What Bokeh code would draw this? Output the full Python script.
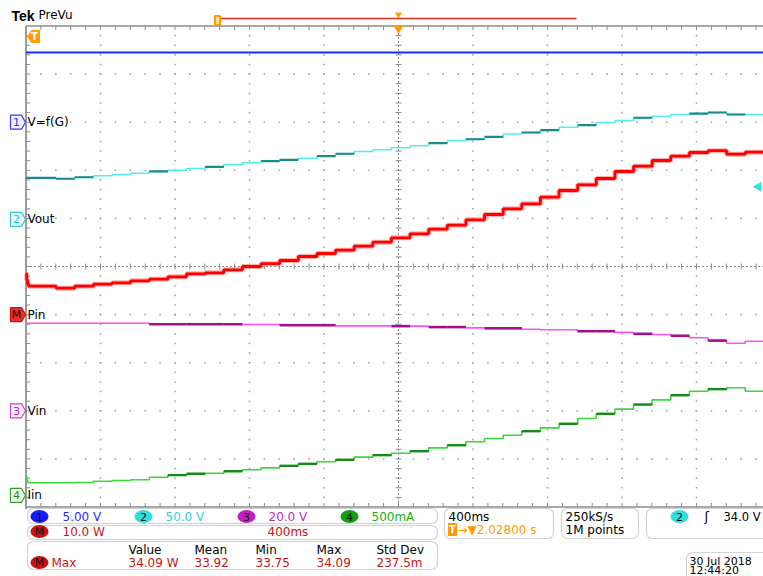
from math import pi

from bokeh.embed import file_html
from bokeh.models import BoxAnnotation, Label
from bokeh.plotting import figure
from bokeh.resources import INLINE

# ---------------- acquisition settings ----------------
SEC_PER_DIV = 0.4
T_CENTER = 2.028                       # trigger -> screen centre, s
T_LEFT = T_CENTER - 5 * SEC_PER_DIV    # time at the left graticule edge
T_END = 3.99                           # last sample in the window

CH1_SCALE, CH1_POS = 5.00, 3.00    # V/div, position in div
CH2_SCALE, CH2_POS = 50.0, 0.98    # V/div
M_SCALE, M_POS = 10.0, -1.00       # W/div (math: Pin)
CH3_SCALE, CH3_POS = 20.0, -3.00   # V/div
CH4_SCALE, CH4_POS = 0.500, -4.76  # A/div
TRIG_LEVEL = 34.0                  # V on ch2

# ---------------- waveforms ----------------
# instants at which the sweep steps (s after trigger)
t_steps = [0.028, 0.19, 0.29, 0.39, 0.49, 0.59, 0.69, 0.79, 0.89, 0.99,
           1.09, 1.19, 1.29, 1.39, 1.49, 1.59, 1.69, 1.79, 1.89, 1.99,
           2.09, 2.19, 2.29, 2.39, 2.49, 2.59, 2.69, 2.79, 2.89, 2.99,
           3.09, 3.19, 3.29, 3.39, 3.49, 3.59, 3.69, 3.79, 3.89]

# ch1: V=f(G)
ch1_t = [0.028, 3.99]
ch1_v = [7.25, 7.25]

# ch2: Vout (V)
ch2_v = [43.2, 42.2, 43.8, 45.3, 46.6, 48.0, 49.8, 51.1, 52.9, 54.6,
         56.7, 58.8, 60.5, 61.9, 63.6, 65.7, 68.2, 70.5, 72.3, 74.4,
         76.5, 79.2, 81.7, 83.3, 85.8, 88.7, 90.3, 92.7, 95.8, 97.9,
         100.7, 102.8, 105.6, 107.2, 109.0, 110.0, 111.1, 109.0, 109.0]

# math M: Pin (W)
m_t = [0.028, 0.032, 0.036, 0.042] + t_steps[1:]
m_v = [8.50, 7.20, 6.40, 5.90, 5.49, 5.90, 6.32, 6.61, 7.03, 7.36, 7.86,
       8.48, 8.69, 9.31, 10.00, 10.58, 11.25, 12.08, 12.70, 13.39, 14.22,
       15.05, 15.97, 16.80, 17.75, 18.59, 19.71, 20.81, 22.00, 23.04, 24.41,
       25.80, 26.99, 28.30, 29.75, 30.85, 32.04, 32.93, 33.70, 34.09, 33.35,
       33.76]

# ch3: Vin (V)
ch3_v = [36.4, 36.4, 36.4, 36.4, 36.4, 36.4, 36.0, 36.0, 36.0, 36.0,
         36.0, 35.9, 35.9, 35.6, 35.6, 35.6, 35.3, 35.3, 35.3, 35.2,
         35.2, 34.8, 34.8, 34.5, 34.3, 34.3, 33.9, 33.7, 33.7, 33.1,
         33.1, 32.6, 32.0, 31.7, 31.2, 30.4, 29.2, 28.1, 28.9]

# ch4: Iin (A)
ch4_t = [0.028, 0.032, 0.037] + t_steps[1:]
ch4_v = [0.205, 0.160, 0.132, 0.132, 0.135, 0.148, 0.155, 0.163, 0.190,
         0.211, 0.225, 0.231, 0.252, 0.267, 0.287, 0.308, 0.329, 0.350,
         0.371, 0.398, 0.419, 0.439, 0.460, 0.495, 0.522, 0.558, 0.592,
         0.626, 0.668, 0.703, 0.745, 0.800, 0.849, 0.897, 0.945, 0.994,
         1.042, 1.084, 1.105, 1.119, 1.084]

# measurement readout
meas_headers = ["Value", "Mean", "Min", "Max", "Std Dev"]
meas_values = ["34.09 W", "33.92", "33.75", "34.09", "237.5m"]

# persistence shading: steps drawn in the darker tone
CH2_DARK = [0, 1, 2, 6, 9, 12, 13, 15, 16, 21, 23, 24, 26, 27, 29, 32, 35, 36, 37]
CH3_DARK = [6, 7, 8, 9, 10, 13, 14, 15, 19, 21, 22, 24, 25, 29, 30, 32, 34, 36]
CH4_DARK = [i + 2 for i in [7, 8, 10, 13, 14, 16, 18, 20, 22, 26, 28, 30, 32, 34, 36]]

# ---------------- screen geometry ----------------
W, H = 763, 576
PX_T = SEC_PER_DIV / 74.5   # seconds per pixel
PX_D = 1 / 48.1             # divisions per pixel
X0 = T_LEFT - 25.5 * PX_T


def sx(px):
    return X0 + px * PX_T


def sy(py):
    return (266 - py) * PX_D


FONT = "DejaVu Sans"
GRAT = "#8c8c8c"
DOT = "#a6a6a6"
ORANGE = "#ff9c00"

p = figure(width=W, height=H, x_range=(sx(0), sx(W)), y_range=(sy(H), sy(0)),
           x_axis_type=None, y_axis_type=None, toolbar_location=None,
           output_backend="svg", min_border=0, outline_line_color=None,
           background_fill_color="white", border_fill_color="white")

T_RIGHT = sx(W)
minor_t = [T_LEFT + k * SEC_PER_DIV / 5 for k in range(1, 50)]
minor_d = [-5 + j * 0.2 for j in range(1, 50)]

# ---------------- graticule ----------------
dot_x, dot_y = [], []
for i in (1, 2, 3, 4, 6, 7, 8, 9):
    dot_x += [T_LEFT + i * SEC_PER_DIV] * len(minor_d)
    dot_y += minor_d
for j in (-4, -3, -2, -1, 1, 2, 3, 4):
    dot_x += minor_t
    dot_y += [j] * len(minor_t)
p.scatter(dot_x, dot_y, marker="square", size=1.6, fill_color=DOT, line_color=None)

p.line([T_CENTER, T_CENTER], [-5, 5], line_color=GRAT, line_dash="2 2", line_width=1)
p.line([T_LEFT, T_RIGHT], [0, 0], line_color=GRAT, line_dash="2 2", line_width=1)
p.scatter([T_CENTER] * len(minor_d), minor_d, marker="dash", size=6, line_color=GRAT)
p.scatter(minor_t, [0] * len(minor_t), marker="dash", angle=pi / 2, size=6, line_color=GRAT)

p.line([T_LEFT, T_LEFT], [-5.04, 5], line_color="#7a7a7a", line_width=1.5)
p.line([T_LEFT, T_RIGHT], [5, 5], line_color=GRAT, line_width=1.5)
p.line([T_LEFT, T_RIGHT], [-5, -5], line_color=GRAT, line_width=1.5)
TICK = 4
n = len(minor_t)
p.segment(x0=minor_t, y0=[5] * n, x1=minor_t, y1=[5 - TICK * PX_D] * n, line_color=GRAT)
p.segment(x0=minor_t, y0=[-5] * n, x1=minor_t, y1=[-5 + TICK * PX_D] * n, line_color=GRAT)
p.segment(x0=[T_LEFT] * len(minor_d), y0=minor_d, x1=[T_LEFT + TICK * PX_T] * len(minor_d),
          y1=minor_d, line_color=GRAT)


# ---------------- traces ----------------
def to_div(vals, scale, pos):
    return [v / scale + pos for v in vals]


def stair(t, v, scale, pos, color, width, alpha=1.0):
    p.step(t + [T_END], to_div(v + [v[-1]], scale, pos), mode="after",
           line_color=color, line_width=width, line_alpha=alpha)


def shade(t, v, scale, pos, idx, color, width):
    tt = t + [T_END]
    d = to_div(v, scale, pos)
    p.segment(x0=[tt[i] for i in idx], x1=[tt[i + 1] for i in idx],
              y0=[d[i] for i in idx], y1=[d[i] for i in idx],
              line_color=color, line_width=width)


p.line(ch1_t, to_div(ch1_v, CH1_SCALE, CH1_POS), line_color="#1530f0", line_width=2)

stair(t_steps, ch2_v, CH2_SCALE, CH2_POS, "#4ff0f0", 1.6)
shade(t_steps, ch2_v, CH2_SCALE, CH2_POS, CH2_DARK, "#1b8a8a", 2.2)

stair(m_t, m_v, M_SCALE, M_POS, "#ff8c8c", 5.0, 0.7)
stair(m_t, m_v, M_SCALE, M_POS, "#ff0000", 2.8)

stair(t_steps, ch3_v, CH3_SCALE, CH3_POS, "#ff50ff", 1.6)
shade(t_steps, ch3_v, CH3_SCALE, CH3_POS, CH3_DARK, "#a0108c", 2.6)

stair(ch4_t, ch4_v, CH4_SCALE, CH4_POS, "#3ad83a", 1.6)
shade(ch4_t, ch4_v, CH4_SCALE, CH4_POS, CH4_DARK, "#168a16", 2.4)

# trigger level on ch2 (right edge)
p.scatter([sx(758)], [TRIG_LEVEL / CH2_SCALE + CH2_POS], marker="triangle",
          angle=pi / 2, size=10, fill_color="#30dede", line_color=None)


# ---------------- text helpers ----------------
def lab(px, py, text, color="black", size=12, align="left", style="normal", font=FONT):
    p.add_layout(Label(x=sx(px), y=sy(py), text=text, text_color=color,
                       text_font=font, text_font_size=f"{size}px",
                       text_font_style=style, text_align=align,
                       text_baseline="middle"))


def panel(left, right, top, bottom):
    p.add_layout(BoxAnnotation(left=sx(left), right=sx(right), top=sy(top),
                               bottom=sy(bottom), fill_color="white", fill_alpha=1,
                               line_color="#6e6e6e", line_width=1.2, border_radius=6,
                               level="underlay"))


def badge(cx, cy, tag, fill):
    p.ellipse([sx(cx)], [sy(cy)], width=18, height=13, width_units="screen",
              height_units="screen", fill_color=fill, line_color=None)
    p.add_layout(Label(x=sx(cx), y=sy(cy), text=tag, text_color="#101010",
                       text_font=FONT, text_font_size="11px", text_align="center",
                       text_baseline="middle"))


# ---------------- header ----------------
lab(11, 15, "Tek", size=14, style="bold", font="Liberation Sans")
lab(38, 14, "PreVu", size=12)
p.line([sx(218), sx(576)], [sy(18), sy(18)], line_color="#e02a20", line_width=1.5)
p.rect([sx(217)], [sy(20)], width=5, height=9, width_units="screen", height_units="screen",
       fill_color="#ffe0a0", line_color=ORANGE, line_width=2)
p.scatter([T_CENTER], [sy(14)], marker="inverted_triangle", size=7,
          fill_color=ORANGE, line_color=None)
p.scatter([T_CENTER], [5 - 2.5 * PX_D], marker="inverted_triangle", size=10,
          fill_color=ORANGE, line_color=None)

# trigger position marker (trigger point lies just left of the screen)
ty = sy(36)
p.patch([sx(27), sx(31), sx(39), sx(39), sx(31)],
        [ty, ty + 6 * PX_D, ty + 6 * PX_D, ty - 6 * PX_D, ty - 6 * PX_D],
        fill_color=ORANGE, line_color=ORANGE)
lab(34, 36, "T", color="white", size=10, align="center", style="bold")

# ---------------- channel markers ----------------
markers = [
    (CH1_POS, "1", "#3a3af0", "#eef0ff", "#3030e0", "V=f(G)"),
    (CH2_POS, "2", "#30c8d8", "#f0ffff", "#20b8c8", "Vout"),
    (M_POS, "M", "#d01010", "#e83030", "#300000", "Pin"),
    (CH3_POS, "3", "#d040d0", "#fff0ff", "#c020c0", "Vin"),
    (CH4_POS, "4", "#30a030", "#f0fff0", "#209020", "Iin"),
]
for pos, tag, edge, fill, tcol, name in markers:
    h = 7 * PX_D
    p.patch([sx(10), sx(21), sx(25), sx(21), sx(10)],
            [pos + h, pos + h, pos, pos - h, pos - h],
            fill_color=fill, line_color=edge, line_width=1.2)
    p.add_layout(Label(x=sx(16), y=pos, text=tag, text_color=tcol, text_font=FONT,
                       text_font_size="11px", text_align="center", text_baseline="middle"))
    p.add_layout(Label(x=sx(27), y=pos, text=name, text_color="black", text_font=FONT,
                       text_font_size="12px", text_align="left", text_baseline="middle"))

# ---------------- readout panels ----------------
panel(27, 437, 508, 523)
panel(27, 437, 525, 539)
panel(27, 437, 541, 569)
panel(444, 553, 508, 538)
panel(561, 638, 508, 538)
panel(646, 780, 508, 538)
panel(686, 780, 552, 590)

# vertical scales
badge(39, 516, "1", "#1a1aff")
lab(62, 516, f"{CH1_SCALE:.2f} V", "#2a2aff")
badge(143, 516, "2", "#30e0e0")
lab(165, 516, f"{CH2_SCALE:.1f} V", "#2cd6d6")
badge(246, 516, "3", "#c020c0")
lab(268, 516, f"{CH3_SCALE:.1f} V", "#c828c8")
badge(349, 516, "4", "#10a010")
lab(371, 516, f"{CH4_SCALE * 1000:.0f}mA", "#18b018")

badge(39, 531, "M", "#cc1010")
lab(62, 531, f"{M_SCALE:.1f} W", "#c81414")
lab(267, 531, f"{SEC_PER_DIV * 1000:.0f}ms", "#c81414")

# measurement table
cols = [128, 194, 255, 316, 376]
for cx, head, val in zip(cols, meas_headers, meas_values):
    lab(cx, 549, head, "black")
    lab(cx, 562, val, "#c81414")
badge(39, 562, "M", "#cc1010")
lab(51, 562, "Max", "#c81414")

# timebase
lab(448, 516, f"{SEC_PER_DIV * 1000:.0f}ms", "black")
p.rect([sx(452)], [sy(529)], width=9, height=13, width_units="screen", height_units="screen",
       fill_color=ORANGE, line_color=None)
lab(452, 529, "T", "white", size=10, align="center", style="bold")
lab(457, 529, f"\u2192\u25bc{T_CENTER:.5f} s", ORANGE)

# acquisition
lab(565, 516, "250kS/s", "black")
lab(565, 529, "1M points", "black")

# trigger
badge(679, 516, "2", "#30e0e0")
lab(704, 516, "\u0283", "black", size=13)
lab(723, 516, f"{TRIG_LEVEL:.1f} V", "black", size=11.5)

# date / time
lab(689, 561, "30 Jul 2018", "black", size=11)
lab(689, 570, "12:44:20", "black", size=11)

open("out.html", "w").write(file_html(p, INLINE))
